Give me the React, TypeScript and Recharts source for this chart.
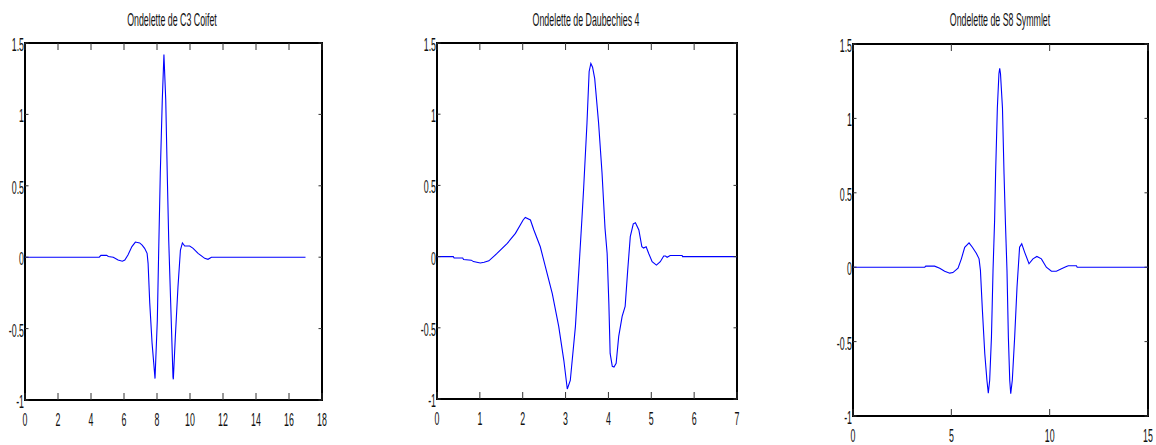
import React from "react";
import { LineChart, Line, XAxis, YAxis, ReferenceArea } from "recharts";

// ---------- data ----------
const coifX = [0, 4.5, 4.6, 4.95, 5.05, 5.35, 5.64, 5.9, 6.05, 6.24, 6.48, 6.69, 6.95, 7.1, 7.25, 7.4, 7.46, 7.56, 7.7, 7.88, 8.02, 8.1, 8.2, 8.32, 8.42, 8.53, 8.62, 8.71, 8.83, 8.97, 8.99, 9.11, 9.27, 9.42, 9.54, 9.68, 9.98, 10.19, 10.49, 10.89, 11.09, 11.3, 17];
const coifY = [0, 0, 0.013, 0.013, 0.005, 0, -0.02, -0.028, -0.02, 0.015, 0.074, 0.106, 0.1, 0.085, 0.062, 0.027, -0.043, -0.32, -0.6, -0.85, -0.44, 0.03, 0.59, 1.1, 1.42, 1.1, 0.59, 0.12, -0.32, -0.84, -0.855, -0.56, -0.21, 0.05, 0.1, 0.078, 0.078, 0.062, 0.027, -0.008, -0.015, 0, 0];

const dbX = [0, 0.38, 0.4, 0.6, 0.62, 0.8, 0.85, 1.01, 1.1, 1.21, 1.4, 1.64, 1.83, 2.01, 2.06, 2.18, 2.26, 2.41, 2.53, 2.69, 2.84, 2.96, 3.04, 3.11, 3.23, 3.31, 3.38, 3.42, 3.5, 3.55, 3.59, 3.63, 3.68, 3.77, 3.85, 3.92, 3.97, 4.01, 4.04, 4.09, 4.13, 4.18, 4.24, 4.32, 4.39, 4.45, 4.51, 4.58, 4.63, 4.71, 4.78, 4.82, 4.88, 4.94, 5.02, 5.12, 5.21, 5.29, 5.33, 5.37, 5.44, 5.72, 5.73, 7];
const dbY = [0, 0, -0.01, -0.01, -0.02, -0.025, -0.035, -0.045, -0.04, -0.03, 0.022, 0.093, 0.163, 0.257, 0.275, 0.257, 0.187, 0.069, -0.072, -0.26, -0.49, -0.73, -0.93, -0.87, -0.49, -0.095, 0.257, 0.47, 0.94, 1.3, 1.356, 1.33, 1.25, 0.94, 0.59, 0.2, 0.022, -0.33, -0.68, -0.77, -0.775, -0.75, -0.56, -0.42, -0.35, -0.095, 0.14, 0.23, 0.238, 0.187, 0.069, 0.06, 0.069, 0.022, -0.036, -0.06, -0.036, 0.004, 0.004, -0.005, 0.008, 0.008, 0, 0];

const symX = [0, 3.65, 3.7, 4.15, 4.41, 4.66, 4.92, 5.08, 5.34, 5.51, 5.68, 5.9, 6.07, 6.27, 6.41, 6.48, 6.58, 6.7, 6.81, 6.88, 6.95, 7.04, 7.12, 7.2, 7.25, 7.34, 7.42, 7.46, 7.5, 7.6, 7.68, 7.75, 7.83, 7.9, 7.97, 8.02, 8.1, 8.22, 8.34, 8.47, 8.58, 8.73, 8.95, 9.15, 9.35, 9.58, 9.83, 10.09, 10.34, 10.6, 10.85, 10.95, 11.36, 11.4, 15];
const symY = [0, 0, 0.007, 0.007, -0.007, -0.027, -0.04, -0.036, -0.007, 0.056, 0.134, 0.164, 0.134, 0.094, 0.056, -0.022, -0.29, -0.58, -0.76, -0.846, -0.76, -0.47, -0.022, 0.313, 0.627, 1.07, 1.3, 1.336, 1.3, 1.07, 0.627, 0.3, -0.022, -0.47, -0.76, -0.85, -0.76, -0.47, -0.134, 0.134, 0.157, 0.1, 0.023, 0.056, 0.072, 0.056, 0, -0.027, -0.027, -0.011, 0.005, 0.01, 0.01, 0, 0];

const yTicks = [-1, -0.5, 0, 0.5, 1, 1.5];
const coifXTicks = [0, 2, 4, 6, 8, 10, 12, 14, 16, 18];
const dbXTicks = [0, 1, 2, 3, 4, 5, 6, 7];
const symXTicks = [0, 5, 10, 15];

const titles = ["Ondelette de C3 Coifet", "Ondelette de Daubechies 4", "Ondelette de S8 Symmlet"];

// ---------- styling ----------
const FONT = "'Liberation Sans', Arial, sans-serif";
const SX = 0.49;
const FS = 18;
const LINE = "#0000ff";

const toData = (xs: number[], ys: number[]) => xs.map((x, i) => ({ x, y: ys[i] }));

const makeBottomTick = (plotH: number) => (props: any) => {
  const { x, y, payload } = props;
  return (
    <g>
      <line x1={x} y1={y} x2={x} y2={y - 7} stroke="#333" strokeWidth={1} />
      <line x1={x} y1={y - plotH} x2={x} y2={y - plotH + 7} stroke="#333" strokeWidth={1} />
      <text transform={`translate(${x},${y + 26}) scale(${SX},1)`} textAnchor="middle" fontSize={FS} fontFamily={FONT} fill="#111">
        {payload.value}
      </text>
    </g>
  );
};

const makeLeftTick = (plotW: number) => (props: any) => {
  const { x, y, payload } = props;
  return (
    <g>
      <line x1={x} y1={y} x2={x + 3.5} y2={y} stroke="#333" strokeWidth={1} />
      <line x1={x + plotW} y1={y} x2={x + plotW - 3.5} y2={y} stroke="#333" strokeWidth={1} />
      <text transform={`translate(${x - 1},${y + 8}) scale(${SX},1)`} textAnchor="end" fontSize={FS} fontFamily={FONT} fill="#111">
        {payload.value}
      </text>
    </g>
  );
};

type PanelProps = {
  plotLeft: number;
  plotTop: number;
  plotW: number;
  plotH: number;
  xMax: number;
  xTicks: number[];
  data: { x: number; y: number }[];
};

const Panel = ({ plotLeft, plotTop, plotW, plotH, xMax, xTicks, data }: PanelProps) => {
  const padL = 40;
  const padR = 6;
  const padB = 40;
  return (
    <div style={{ position: "absolute", left: plotLeft - padL, top: 0 }}>
      <LineChart
        width={padL + plotW + padR}
        height={plotTop + plotH + padB}
        data={data}
        margin={{ top: plotTop, right: padR, bottom: 0, left: 0 }}
      >
        <XAxis xAxisId="b" dataKey="x" type="number" domain={[0, xMax]} ticks={xTicks} interval={0} allowDataOverflow
          orientation="bottom" height={padB} tickSize={0} tickMargin={0} tickLine={false}
          axisLine={false} tick={makeBottomTick(plotH)} />
        <YAxis yAxisId="l" type="number" domain={[-1, 1.5]} ticks={yTicks} interval={0} allowDataOverflow
          orientation="left" width={padL} tickSize={0} tickMargin={0} tickLine={false}
          axisLine={false} tick={makeLeftTick(plotW)} />
        <ReferenceArea xAxisId="b" yAxisId="l" x1={0} x2={xMax} y1={-1} y2={1.5}
          fill="none" fillOpacity={0} stroke="#000" strokeWidth={2} ifOverflow="visible" />
        <Line xAxisId="b" yAxisId="l" type="linear" dataKey="y" stroke={LINE} strokeWidth={1.1}
          dot={false} activeDot={false} isAnimationActive={false} />
      </LineChart>
    </div>
  );
};

export default function App() {
  const titleX = [172, 586, 1000];
  return (
    <div style={{ position: "absolute", left: 0, top: 0, width: 1156, height: 445, background: "#fff", overflow: "hidden" }}>
      <Panel plotLeft={25} plotTop={43} plotW={297} plotH={357} xMax={18} xTicks={coifXTicks} data={toData(coifX, coifY)} />
      <Panel plotLeft={437} plotTop={43} plotW={300} plotH={356} xMax={7} xTicks={dbXTicks} data={toData(dbX, dbY)} />
      <Panel plotLeft={853} plotTop={44} plotW={295} plotH={372} xMax={15} xTicks={symXTicks} data={toData(symX, symY)} />
      <svg width={1156} height={445} style={{ position: "absolute", left: 0, top: 0, pointerEvents: "none" }}>
        {titles.map((t, i) => (
          <text key={t} transform={`translate(${titleX[i]},26) scale(${SX},1)`} textAnchor="middle"
            fontSize={FS} fontFamily={FONT} fill="#111">
            {t}
          </text>
        ))}
      </svg>
    </div>
  );
}
